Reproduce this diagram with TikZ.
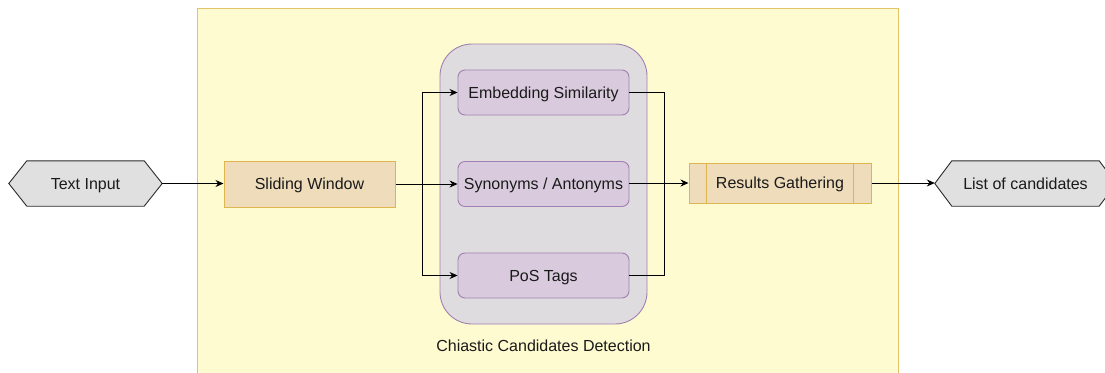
\documentclass[tikz,border=0pt]{standalone}
\usepackage{fontspec}
\setmainfont{Liberation Sans}
\usetikzlibrary{arrows.meta}

\definecolor{panelfill}{HTML}{FFFBD0}
\definecolor{panelline}{HTML}{E2C36A}
\definecolor{groupfill}{HTML}{DFDCDF}
\definecolor{purpleline}{HTML}{A27FB2}
\definecolor{purplefill}{HTML}{D9CBDD}
\definecolor{tanfill}{HTML}{EFDCBB}
\definecolor{tanline}{HTML}{DDB650}
\definecolor{hexfill}{HTML}{E0E0E0}
\definecolor{hexline}{HTML}{2B2B2B}
\definecolor{inkcol}{HTML}{1A1A1A}

\tikzset{
  label text/.style={text=inkcol, text height=11.5pt, text depth=0pt},
  hexnode/.style={minimum height=45pt, inner sep=0pt},
  hexshape/.style={draw=hexline, fill=hexfill, line width=0.9pt, line join=miter},
  tanbox/.style={label text, draw=tanline, fill=tanfill, line width=1pt, inner sep=0pt},
  purplebox/.style={label text, draw=purpleline, fill=purplefill, line width=0.9pt, rounded corners=7pt,
    minimum width=171pt, minimum height=45pt, inner sep=0pt},
  flow/.style={draw=black, line width=0.9pt},
  flowarrow/.style={flow, -{Stealth[length=8pt,width=7pt]}}
}

\begin{document}
\begin{tikzpicture}[x=1pt, y=-1pt, font=\fontsize{16}{19}\selectfont]
\useasboundingbox (0,0) rectangle (1105,372);
\clip (0,0) rectangle (1105,372);

% background panel of the detection stage
\path[fill=panelfill, draw=panelline, line width=1pt] (197,8) rectangle (898,390);

% group holding the three detectors
\node[draw=purpleline, fill=groupfill, line width=0.9pt, rounded corners=32pt,
      minimum width=207pt, minimum height=280pt, inner sep=0pt] (grp) at (543.5,184) {};
\node[label text] (grplabel) at (543.5,346) {Chiastic Candidates Detection};

% input hexagon
\node[hexnode, minimum width=153pt] (txt) at (85.5,183.5) {};
\path[hexshape] (txt.west) -- ([xshift=18pt]txt.north west) -- ([xshift=-18pt]txt.north east)
  -- (txt.east) -- ([xshift=-18pt]txt.south east) -- ([xshift=18pt]txt.south west) -- cycle;
\node[label text] at (txt.center) {Text Input};

% output hexagon
\node[hexnode, minimum width=181pt] (out) at (1025.5,183.5) {};
\path[hexshape] (out.west) -- ([xshift=17pt]out.north west) -- ([xshift=-17pt]out.north east)
  -- (out.east) -- ([xshift=-17pt]out.south east) -- ([xshift=17pt]out.south west) -- cycle;
\node[label text] at (out.center) {List of candidates};

% processing steps
\node[tanbox, minimum width=171pt, minimum height=46pt] (win) at (309.5,184) {Sliding Window};

\node[purplebox] (emb) at (543.5,92.5) {Embedding Similarity};
\node[purplebox] (syn) at (543.5,184) {Synonyms / Antonyms};
\node[purplebox] (pos) at (543.5,275.5) {PoS Tags};

\node[tanbox, minimum width=182pt, minimum height=40pt] (res) at (780,183) {Results Gathering};
\draw[tanline, line width=1pt] ([xshift=18pt]res.north west) -- ([xshift=18pt]res.south west)
  ([xshift=-18pt]res.north east) -- ([xshift=-18pt]res.south east);

% connectors
\coordinate (split) at (422,184);
\coordinate (merge) at (664,183);

\draw[flowarrow] (txt.east) -- (win.west |- txt.east);
\draw[flowarrow] (win.east) -- (syn.west);
\draw[flowarrow] (split) |- (emb.west);
\draw[flowarrow] (split) |- (pos.west);
\draw[flow] (emb.east) -| (merge);
\draw[flow] (pos.east) -| (merge);
\draw[flowarrow] (syn.east |- res.west) -- (res.west);
\draw[flowarrow] (res.east) -- (out.west |- res.east);
\end{tikzpicture}
\end{document}
